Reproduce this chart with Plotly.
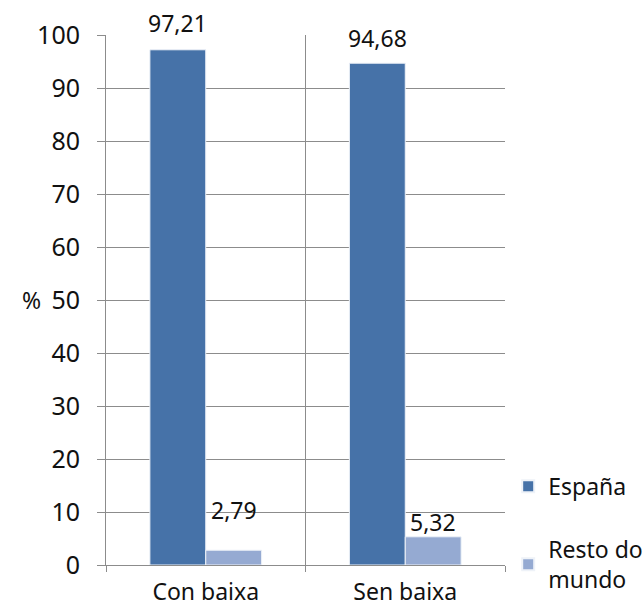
import plotly.graph_objects as go

categories = ["Con baixa", "Sen baixa"]
espana = [97.21, 94.68]
resto = [2.79, 5.32]
espana_labels = ["97,21", "94,68"]
resto_labels = ["2,79", "5,32"]
y_ticks = list(range(0, 101, 10))

FONT = "Noto Sans"
C_ES = "#4672A8"
C_RM = "#95AAD2"

fig = go.Figure()
fig.add_trace(go.Bar(name="España", x=categories, y=espana, marker_color=C_ES,
                     marker_line=dict(color="#EEF2F8", width=1), legendgroup="a"))
fig.add_trace(go.Bar(name="Resto do<br>mundo", x=categories, y=resto, marker_color=C_RM,
                     marker_line=dict(color="#EEF2F8", width=1), legendgroup="b"))

# data labels
es_shift = [27, 25]
rm_shift = [40, 15]
for i, c in enumerate(categories):
    fig.add_annotation(x=c, y=espana[i], text=espana_labels[i], showarrow=False,
                       xshift=-28, yshift=es_shift[i], font=dict(size=23, color="#111", family=FONT))
    fig.add_annotation(x=c, y=resto[i], text=resto_labels[i], showarrow=False,
                       xshift=28, yshift=rm_shift[i], font=dict(size=23, color="#111", family=FONT))

fig.add_annotation(xref="paper", yref="paper", x=-0.215, y=0.5, text="%", showarrow=False,
                   font=dict(size=23, color="#111", family=FONT))

fig.update_layout(
    width=644, height=607,
    margin=dict(l=106, r=139, t=35, b=42, autoexpand=False),
    paper_bgcolor="white", plot_bgcolor="white",
    barmode="group", bargap=0.44, bargroupgap=0.0,
    font=dict(family=FONT, size=20, color="#111"),
    legend=dict(x=1.008, y=0.189, xanchor="left", yanchor="top",
                font=dict(size=23, family=FONT), tracegroupgap=30,
                itemsizing="constant"),
    showlegend=True,
)
fig.update_yaxes(range=[0, 100], tickvals=y_ticks, showgrid=True, gridcolor="#8C8C8C",
                 gridwidth=1, showline=True, linecolor="#8C8C8C", linewidth=1,
                 ticks="outside", ticklen=8, tickcolor="#8C8C8C", zeroline=False,
                 tickfont=dict(size=25, family=FONT, color="#111"), ticklabelstandoff=12,
                 automargin=False)
fig.update_xaxes(showline=True, linecolor="#8C8C8C", linewidth=1, ticks="outside",
                 tickson="boundaries", ticklen=6, tickcolor="#8C8C8C", showgrid=True,
                 gridcolor="#8C8C8C", tickfont=dict(size=23, family=FONT, color="#111"),
                 ticklabelstandoff=6, mirror=False, automargin=False)

fig.write_html("out.html", config={"displayModeBar": False},
               post_script="document.body.style.margin='0px';")
